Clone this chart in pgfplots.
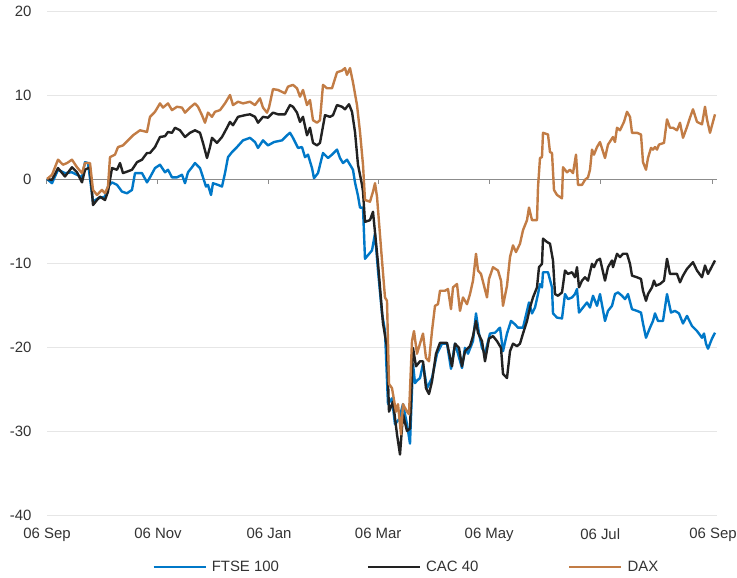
\documentclass[border=0pt]{standalone}
\usepackage{pgfplots}
\pgfplotsset{compat=1.18}
\usepackage{fontspec}
\setmainfont{Liberation Sans}
\definecolor{ftse}{HTML}{0078C8}
\definecolor{cac}{HTML}{222222}
\definecolor{dax}{HTML}{C27C45}
\definecolor{gridc}{HTML}{E6E6E6}
\definecolor{zeroc}{HTML}{8C8C8C}
\definecolor{labc}{HTML}{333333}
\begin{document}
\begin{tikzpicture}
\begin{axis}[
  scale only axis, width=670bp, height=504bp,
  xmin=0, xmax=670, ymin=-40, ymax=20,
  axis line style={draw=none},
  major tick length=0pt,
  xtick={0,111,222,331.2,442.2,553.2,666},
  xticklabels={06 Sep,06 Nov,06 Jan,06 Mar,06 May,06 Jul,06 Sep},
  ytick={-40,-30,-20,-10,0,10,20},
  yticklabels={-40,-30,-20,-10,0,10,20},
  ymajorgrids, grid style={gridc, line width=0.8bp},
  tick label style={font=\fontsize{15}{17}\selectfont, text=labc},
  yticklabel style={xshift=-12bp},
  xticklabel style={yshift=-10bp},
  /pgf/number format/assume math mode=true,
  legend columns=3,
  legend style={draw=none, fill=none, at={(0.1525,-0.103)}, anchor=west,
    font=\fontsize{15}{17}\selectfont, text=labc,
    /tikz/every even column/.append style={column sep=0bp}},
  legend image code/.code={\draw[#1, line width=2.4bp] (0,0) -- (52bp,0);},
  clip=false,
]
\coordinate (LL) at (rel axis cs:0,0);
\draw[zeroc, line width=1bp] (axis cs:0,0) -- (axis cs:670,0);
\draw[zeroc, line width=1bp] (axis cs:0,0) -- ([yshift=-5bp]axis cs:0,0);
\draw[zeroc, line width=1bp] (axis cs:111,0) -- ([yshift=-5bp]axis cs:111,0);
\draw[zeroc, line width=1bp] (axis cs:222,0) -- ([yshift=-5bp]axis cs:222,0);
\draw[zeroc, line width=1bp] (axis cs:331.2,0) -- ([yshift=-5bp]axis cs:331.2,0);
\draw[zeroc, line width=1bp] (axis cs:442.2,0) -- ([yshift=-5bp]axis cs:442.2,0);
\draw[zeroc, line width=1bp] (axis cs:553.2,0) -- ([yshift=-5bp]axis cs:553.2,0);
\draw[zeroc, line width=1bp] (axis cs:666,0) -- ([yshift=-5bp]axis cs:666,0);
\addplot[ftse, line width=2.4bp, line join=round] coordinates {
(0,0) (5,-0.5) (11,1.1) (18,0.7) (25,0.8) (30,0.5) (35,0.2) (38,2.0) (41,1.9) (46,-2.7) (51,-2.3) (58,-2.1) (61,-0.9) (65,-0.4) (70,-0.7) (75,-1.5) (80,-1.7) (85,-1.3) (88,0.7) (95,0.7) (100,-0.4) (103,0.2) (108,1.3) (113,1.7) (118,0.8) (121,1.1) (125,0.2) (130,0.2) (135,0.5) (138,-0.5) (141,0.8) (145,1.4) (148,1.9) (153,1.3) (156,0.2) (159,-0.9) (161,-0.7) (164,-1.9) (166,-0.5) (171,-0.7) (175,-0.9) (178,0.7) (181,2.6) (185,3.2) (190,3.8) (196,4.6) (203,4.9) (208,4.4) (211,3.7) (216,4.6) (221,4.0) (227,4.4) (235,4.6) (240,5.2) (243,5.5) (246,4.9) (251,3.7) (255,3.8) (258,2.6) (261,2.9) (265,1.3) (267,0.1) (271,0.7) (276,3.1) (281,2.5) (285,2.9) (290,3.5) (293,2.5) (296,1.9) (300,2.3) (303,1.7) (306,1.1) (308,-0.4) (311,-2.0) (313,-3.4) (316,-3.4) (318,-9.5) (325,-8.5) (328,-6.5) (331,-10.9) (335,-16) (338,-18.1) (341,-26.8) (345,-26.1) (348,-29.2) (352,-28.6) (356,-26.8) (360,-29.2) (363,-31.5) (366,-22) (368,-24.3) (370,-24) (373,-23.7) (376,-22) (380,-24.9) (385,-23.7) (390,-20.8) (395,-19.6) (400,-19.6) (404,-22.6) (408,-19.6) (411,-20.8) (415,-22.5) (418,-20.1) (421,-20.8) (426,-19.3) (429,-16) (432,-18.4) (435,-20.1) (438,-20.8) (443,-18.4) (448,-18.3) (453,-17.7) (456,-20.5) (460,-18.4) (464,-16.9) (468,-17.3) (471,-17.7) (476,-17.7) (480,-15.7) (482,-14.7) (485,-16.0) (488,-15.3) (491,-13.7) (493,-12.5) (495,-12.9) (496,-11.1) (501,-11.1) (505,-12.9) (506,-16.0) (510,-16.5) (515,-16.6) (518,-13.7) (521,-14.3) (525,-14.1) (528,-13.7) (530,-13.1) (532,-15.9) (536,-15.3) (540,-14.7) (543,-15.3) (546,-13.9) (550,-15.1) (553,-13.7) (558,-16.9) (561,-15.7) (565,-15.1) (568,-13.7) (571,-13.5) (575,-13.9) (578,-14.3) (581,-13.7) (585,-15.5) (590,-15.7) (594,-15.9) (596,-17.2) (599,-18.9) (603,-17.7) (606,-16.9) (608,-16.0) (611,-16.9) (616,-16.9) (620,-13.7) (624,-15.9) (628,-15.7) (632,-16.0) (636,-17.2) (640,-16.3) (645,-17.5) (650,-18.1) (655,-18.9) (657,-18.4) (659,-19.6) (661,-20.2) (665,-19.0) (668,-18.3)
};
\addlegendentry{\makebox[156bp][l]{\hspace{3bp}FTSE 100}}
\addplot[cac, line width=2.4bp, line join=round] coordinates {
(0,0) (5,-0.1) (11,1.3) (18,0.3) (25,1.4) (30,0.8) (35,-0.4) (38,1.1) (43,1.4) (46,-3.1) (50,-2.5) (53,-2.1) (58,-2.5) (61,-1.5) (65,1.3) (70,1.1) (73,1.9) (76,0.7) (85,1.1) (90,2.0) (95,2.3) (100,3.1) (103,3.1) (108,3.8) (113,5.0) (118,5.1) (121,5.6) (125,5.5) (128,6.1) (133,5.8) (138,5.0) (143,5.5) (148,5.8) (153,5.5) (156,4.3) (160,2.5) (163,3.8) (165,4.9) (170,4.3) (175,5.0) (180,6.1) (183,6.8) (186,6.4) (191,7.4) (198,7.6) (203,7.7) (208,7.4) (211,6.7) (216,7.4) (221,7.3) (226,7.9) (231,7.7) (238,7.7) (243,8.8) (246,8.6) (250,7.9) (253,6.8) (256,7.4) (260,5.2) (263,6.1) (266,4.3) (270,4.0) (273,4.3) (278,7.6) (283,7.4) (286,7.6) (290,8.8) (295,8.6) (298,8.3) (302,8.9) (305,8.0) (308,5.6) (311,1.7) (315,-0.7) (316,-1.5) (318,-5.1) (323,-4.9) (326,-3.9) (331,-10) (336,-17.2) (340,-20) (342,-27.7) (346,-26.5) (350,-30.4) (353,-32.8) (356,-28) (360,-30) (363,-29.7) (366,-20.1) (369,-22.3) (373,-21.7) (376,-21.7) (379,-24.9) (382,-25.6) (385,-24.1) (389,-20.8) (393,-19.5) (400,-19.5) (405,-22.3) (408,-19.6) (412,-20.1) (415,-22.3) (418,-20.5) (423,-19.9) (426,-18.7) (429,-16.9) (431,-18.3) (435,-19.3) (438,-21.7) (442,-19.0) (446,-18.7) (450,-19.3) (454,-20.1) (456,-23.2) (460,-23.7) (463,-20.5) (466,-19.6) (470,-19.9) (473,-19.6) (476,-18.4) (480,-16.9) (483,-15.3) (486,-14.1) (490,-12.9) (492,-10.5) (495,-10.1) (496,-7.1) (500,-7.5) (503,-7.7) (506,-9.7) (508,-13.7) (511,-13.9) (515,-13.5) (518,-10.9) (521,-11.3) (525,-11.1) (528,-11.7) (530,-10.5) (532,-12.9) (535,-12.1) (538,-11.7) (541,-12.1) (545,-10.1) (547,-10.5) (550,-9.7) (553,-9.5) (558,-12.1) (561,-10.5) (565,-9.7) (566,-10.5) (570,-8.9) (573,-9.3) (576,-8.9) (580,-8.9) (583,-10.1) (585,-11.5) (590,-11.7) (594,-11.9) (596,-13.3) (599,-14.5) (601,-13.7) (605,-12.9) (607,-12.1) (609,-12.7) (613,-12.5) (617,-12.1) (620,-9.5) (623,-11.3) (626,-11.3) (630,-11.3) (633,-12.3) (636,-11.5) (640,-10.7) (646,-9.9) (650,-10.9) (655,-11.7) (658,-10.3) (661,-11.3) (668,-9.7)
};
\addlegendentry{\makebox[143bp][l]{\hspace{3bp}CAC 40}}
\addplot[dax, line width=2.4bp, line join=round] coordinates {
(0,0) (5,0.5) (11,2.3) (16,1.7) (20,1.9) (25,2.3) (30,1.4) (35,0.7) (38,1.9) (43,1.9) (46,-1.3) (50,-1.9) (55,-1.3) (58,-1.7) (61,-0.9) (63,2.6) (68,2.9) (71,3.8) (76,4.0) (81,4.6) (86,5.2) (93,5.8) (100,5.6) (103,7.4) (108,8.0) (113,9.0) (116,8.5) (121,9.0) (125,8.2) (130,8.6) (135,8.5) (138,7.9) (143,8.5) (148,9.0) (151,8.6) (155,7.6) (158,6.7) (161,7.9) (165,7.4) (168,8.0) (173,8.2) (178,9.0) (183,10.0) (186,8.8) (191,9.2) (196,9.0) (203,9.2) (208,8.8) (213,9.6) (216,8.5) (220,7.9) (222,8.5) (226,10.7) (231,10.6) (238,10.2) (241,11.0) (246,11.2) (250,10.8) (253,9.8) (256,10.6) (260,8.8) (263,9.4) (266,7.0) (270,6.7) (273,7.0) (276,11.2) (280,10.8) (285,10.8) (290,12.7) (295,12.9) (298,13.2) (300,12.4) (303,13.2) (306,11.5) (310,8.8) (313,5.6) (316,1.7) (318,-2.5) (323,-2.7) (326,-1.5) (328,-0.5) (330,-2.1) (335,-9.7) (338,-14.1) (340,-14.5) (342,-24.4) (345,-24.9) (349,-27.7) (351,-26.8) (354,-30.4) (356,-26.8) (360,-27.7) (362,-28) (365,-19.3) (367,-18.1) (370,-20.8) (376,-18.4) (379,-21.3) (382,-21.7) (385,-18.1) (388,-15.1) (391,-14.9) (393,-13.3) (398,-13.3) (401,-13.1) (404,-15.5) (406,-12.9) (410,-12.5) (413,-15.7) (416,-14.1) (420,-14.9) (423,-13.7) (426,-12.1) (429,-8.9) (431,-10.9) (434,-11.3) (437,-12.7) (440,-14.1) (442,-11.9) (446,-10.5) (451,-10.9) (454,-12.1) (456,-15.1) (460,-12.7) (463,-9.3) (466,-7.9) (469,-8.7) (473,-7.7) (476,-6.1) (480,-4.9) (482,-3.4) (485,-4.9) (490,-4.9) (491,-1.0) (493,2.5) (495,2.6) (496,5.5) (501,5.3) (503,3.2) (505,3.1) (507,-1.3) (510,-1.9) (515,-2.3) (516,1.4) (520,0.8) (523,1.1) (526,0.7) (529,2.9) (531,-0.7) (535,-0.7) (538,-0.1) (541,0.2) (543,1.1) (545,3.5) (547,2.9) (550,3.8) (553,4.4) (558,2.5) (561,4.1) (566,5.0) (568,4.4) (570,6.1) (573,5.8) (577,6.8) (580,8.0) (583,7.4) (585,5.5) (590,5.5) (594,5.3) (596,2.0) (599,1.1) (601,2.5) (604,3.7) (606,3.5) (608,3.8) (610,3.5) (612,4.1) (617,4.3) (620,7.1) (623,6.1) (626,6.1) (630,5.8) (633,6.7) (636,4.9) (640,6.2) (643,7.3) (646,8.3) (650,6.8) (655,6.5) (658,8.6) (660,7.1) (663,5.5) (668,7.7)
};
\addlegendentry{\hspace{3bp}DAX}
\end{axis}
\pgfresetboundingbox
\path ([shift={(-47bp,-63bp)}]LL) rectangle ([shift={(690bp,515bp)}]LL);
\end{tikzpicture}
\end{document}
